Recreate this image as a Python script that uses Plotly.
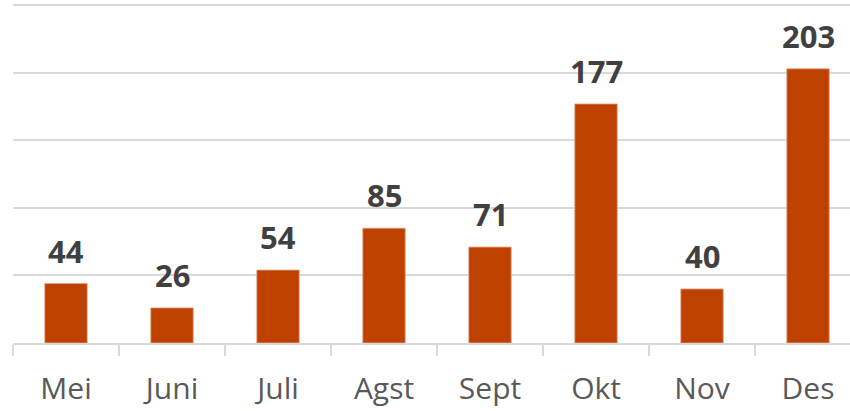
import plotly.graph_objects as go

months = ["Mei", "Juni", "Juli", "Agst", "Sept", "Okt", "Nov", "Des"]
values = [44, 26, 54, 85, 71, 177, 40, 203]

bar_color = "#BF4100"

fig = go.Figure()
fig.add_trace(go.Bar(
    x=months, y=values, width=0.4,
    marker=dict(color=bar_color, line=dict(color="#E8A080", width=0.8)),
    hoverinfo="skip",
))

for m, v in zip(months, values):
    fig.add_annotation(
        x=m, y=v, text=f"<b>{v}</b>", showarrow=False,
        yanchor="bottom", yshift=10,
        font=dict(family="Open Sans", size=31, color="#404040"),
    )

fig.update_layout(
    width=850, height=411,
    margin=dict(l=13, r=0, t=4, b=68),
    paper_bgcolor="white", plot_bgcolor="white",
    showlegend=False,
    bargap=0.6,
)
fig.update_xaxes(
    range=[-0.5, 7.396], automargin=False,
    tickson="boundaries", ticks="outside", ticklen=11, tickcolor="#D9D9D9", tickwidth=1.5,
    ticklabelstandoff=18,
    showline=True, linecolor="#D9D9D9", linewidth=1.5,
    tickfont=dict(family="Open Sans", size=30, color="#595959"),
    showgrid=False,
)
fig.update_yaxes(
    range=[0, 251], dtick=50, showgrid=True, gridcolor="#D9D9D9", gridwidth=1.5,
    showticklabels=False, zeroline=False, automargin=False,
)

fig.write_html(
    "out.html",
    config={"displayModeBar": False},
    post_script="document.body.style.margin='0';document.body.style.overflow='hidden';",
)
